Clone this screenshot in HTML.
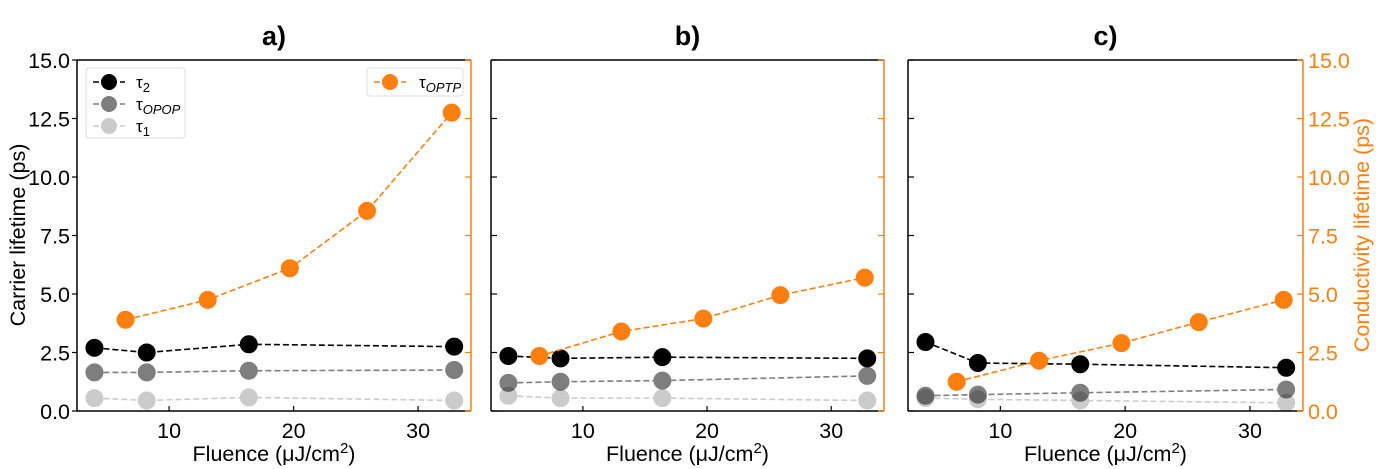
<!DOCTYPE html>
<html><head><meta charset="utf-8">
<style>
body{margin:0;background:#fff;}
svg{display:block;font-family:"Liberation Sans","DejaVu Sans",sans-serif;}
</style></head>
<body>
<svg id="chart" width="1380" height="469" viewBox="0 0 1380 469" xmlns="http://www.w3.org/2000/svg"></svg>
<script>
// Data
const xTau = [4.0, 8.2, 16.4, 32.9];
const xOptp = [6.5, 13.1, 19.7, 25.9, 32.7];
const panelTitles = ["a)", "b)", "c)"];
const tau2 = [[2.7, 2.5, 2.85, 2.75],[2.35, 2.25, 2.3, 2.25],[2.95, 2.05, 2.0, 1.85]];
const tauOpop = [[1.65, 1.65, 1.72, 1.75],[1.2, 1.25, 1.3, 1.5],[0.65, 0.7, 0.78, 0.92]];
const tau1 = [[0.55, 0.45, 0.58, 0.45],[0.65, 0.55, 0.55, 0.45],[0.55, 0.5, 0.45, 0.35]];
const optp = [[3.9, 4.75, 6.1, 8.55, 12.75],[2.35, 3.4, 3.95, 4.95, 5.7],[1.25, 2.15, 2.9, 3.8, 4.75]];
const yTicks = [0, 2.5, 5, 7.5, 10, 12.5, 15];
const yTickLabels = ["0.0","2.5","5.0","7.5","10.0","12.5","15.0"];
const xTicks = [10, 20, 30];

const svg = document.getElementById('chart');
const NS = "http://www.w3.org/2000/svg";
function mk(tag, attrs, parent){
  const e = document.createElementNS(NS, tag);
  for (const k in attrs) e.setAttribute(k, attrs[k]);
  (parent||svg).appendChild(e);
  return e;
}
const panels = [{x0:77,x1:471},{x0:491,x1:884},{x0:908,x1:1303}];
const yTop = 60, yBot = 411, yMax = 15;
const xMin = 2.6, xMax = 34.25;
const orange = "#ff7f0e";

panels.forEach((p, i) => {
  const g = mk('g', {});
  
  
  const sx = v => p.x0 + (v - xMin) / (xMax - xMin) * (p.x1 - p.x0);
  const sy = v => yBot - v / yMax * (yBot - yTop);

  const t = mk('text', {x:(p.x0+p.x1)/2, y:45, 'text-anchor':'middle', 'font-size':27, 'font-weight':'bold', fill:'#000'}, g);
  t.textContent = panelTitles[i];
  
  

  mk('line', {x1:p.x0, y1:yTop, x2:p.x1, y2:yTop, stroke:'#000', 'stroke-width':1.5}, g);
  mk('line', {x1:p.x0, y1:yBot, x2:p.x1, y2:yBot, stroke:'#000', 'stroke-width':1.5}, g);
  mk('line', {x1:p.x0, y1:yTop, x2:p.x0, y2:yBot, stroke:'#000', 'stroke-width':1.5}, g);
  mk('line', {x1:p.x1, y1:yTop, x2:p.x1, y2:yBot, stroke:orange, 'stroke-width':1.5}, g);

  yTicks.forEach((v, k) => {
    const y = sy(v);
    if (i === 0) {
      mk('line', {x1:p.x0-5, y1:y, x2:p.x0, y2:y, stroke:'#000', 'stroke-width':1.2}, g);
      const tl = mk('text', {x:p.x0-7, y:y+8, 'text-anchor':'end', 'font-size':21.5, fill:'#000'}, g);
      tl.textContent = yTickLabels[k];
      
      
    } else {
      mk('line', {x1:p.x0, y1:y, x2:p.x0+6, y2:y, stroke:'#000', 'stroke-width':1.2}, g);
    }
    mk('line', {x1:p.x1-6, y1:y, x2:p.x1, y2:y, stroke:orange, 'stroke-width':1.2}, g);
    if (i === 2) {
      const tr = mk('text', {x:p.x1+5, y:y+8, 'text-anchor':'start', 'font-size':21.5, fill:orange}, g);
      tr.textContent = yTickLabels[k];
      
      
    }
  });
  xTicks.forEach(v => {
    const x = sx(v);
    mk('line', {x1:x, y1:yBot-5, x2:x, y2:yBot, stroke:'#000', 'stroke-width':1.2}, g);
    const tl = mk('text', {x:x, y:yBot+27, 'text-anchor':'middle', 'font-size':21.5, fill:'#000'}, g);
    tl.textContent = v;
    
    
  });
  const xl = mk('text', {x:(p.x0+p.x1)/2, y:461, 'text-anchor':'middle', 'font-size':21.5, fill:'#000'}, g);
  xl.innerHTML = 'Fluence (μJ/cm<tspan dy="-8" font-size="15">2</tspan><tspan dy="8">)</tspan>';
  
  

  function series(xs, ys, color, edge, opacity, name){
    const sg = mk('g', {opacity:opacity}, g);
    
    
    const pts = xs.map((x, k) => sx(x) + ',' + sy(ys[k])).join(' ');
    mk('polyline', {points:pts, fill:'none', stroke:color, 'stroke-width':1.6, 'stroke-dasharray':'6,3'}, sg);
    xs.forEach((x, k) => {
      const c = mk('circle', {cx:sx(x), cy:sy(ys[k]), r:8.5, fill:color, stroke:edge, 'stroke-width':1}, sg);
      
      
    });
  }
  series(xTau, tau1[i], '#000', '#000', 0.2, 'tau1-series');
  series(xTau, tauOpop[i], '#000', '#000', 0.5, 'tau-opop-series');
  series(xTau, tau2[i], '#000', '#000', 1, 'tau2-series');
  series(xOptp, optp[i], orange, orange, 1, 'optp-series');

  if (i === 0) {
    const lg = mk('g', {}, g);
    
    
    mk('rect', {x:86, y:68, width:99, height:70, rx:3, fill:'#fff', stroke:'#ddd'}, lg);
    const ents = [['τ','2',1],['τ','OPOP',0.5],['τ','1',0.2]];
    ents.forEach((e, k) => {
      const y = 82 + k*22;
      const eg = mk('g', {opacity:e[2]}, lg);
      
      
      mk('line', {x1:93, y1:y, x2:125, y2:y, stroke:'#000', 'stroke-width':1.6, 'stroke-dasharray':'6,3'}, eg);
      mk('circle', {cx:109, cy:y, r:8, fill:'#000'}, eg);
      const tx = mk('text', {x:136, y:y+6, 'font-size':17, fill:'#000'}, lg);
      tx.innerHTML = e[0] + '<tspan dy="4" font-size="13"' + (e[1]==='OPOP'?' font-style="italic"':'') + '>' + e[1] + '</tspan>';
    });
    const lg2 = mk('g', {}, g);
    
    
    mk('rect', {x:367, y:68, width:96, height:28, rx:3, fill:'#fff', stroke:'#ddd'}, lg2);
    mk('line', {x1:374, y1:82, x2:406, y2:82, stroke:orange, 'stroke-width':1.6, 'stroke-dasharray':'6,3'}, lg2);
    mk('circle', {cx:390, cy:82, r:8, fill:orange}, lg2);
    const tx = mk('text', {x:419, y:88, 'font-size':17, fill:'#000'}, lg2);
    tx.innerHTML = 'τ<tspan dy="4" font-size="13" font-style="italic">OPTP</tspan>';
  }
});
const yl = mk('text', {x:0, y:0, transform:'translate(25,235) rotate(-90)', 'text-anchor':'middle', 'font-size':21.5, fill:'#000'});
yl.textContent = 'Carrier lifetime (ps)';


const yr = mk('text', {x:0, y:0, transform:'translate(1369,235) rotate(-90)', 'text-anchor':'middle', 'font-size':21.5, fill:orange});
yr.textContent = 'Conductivity lifetime (ps)';


</script>
</body></html>
